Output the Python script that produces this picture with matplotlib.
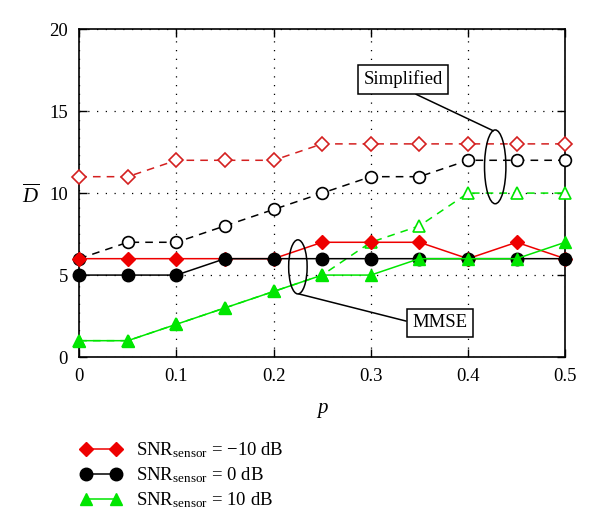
import matplotlib
matplotlib.use('Agg')
import matplotlib.pyplot as plt
from matplotlib.patches import Ellipse

# data
p = [0, 0.05, 0.1, 0.15, 0.2, 0.25, 0.3, 0.35, 0.4, 0.45, 0.5]
mmse_m10 = [6, 6, 6, 6, 6, 7, 7, 7, 6, 7, 6]
mmse_0 = [5, 5, 5, 6, 6, 6, 6, 6, 6, 6, 6]
mmse_10 = [1, 1, 2, 3, 4, 5, 5, 6, 6, 6, 7]
simp_m10 = [11, 11, 12, 12, 12, 13, 13, 13, 13, 13, 13]
simp_0 = [6, 7, 7, 8, 9, 10, 11, 11, 12, 12, 12]
simp_10 = [1, 1, 2, 3, 4, 5, 7, 8, 10, 10, 10]
labels = [r'SNR$_{\mathrm{sensor}}$ = $-$10 dB',
          r'SNR$_{\mathrm{sensor}}$ = 0 dB',
          r'SNR$_{\mathrm{sensor}}$ = 10 dB']

plt.rcParams['font.family'] = ['Liberation Serif', 'DejaVu Serif']
plt.rcParams['mathtext.fontset'] = 'custom'
plt.rcParams['mathtext.rm'] = 'Liberation Serif'
plt.rcParams['mathtext.it'] = 'Liberation Serif:italic'

red = '#ee0000'
green = '#00e600'
dash = (0, (5, 4))

fig = plt.figure(figsize=(6, 5.29), dpi=100)
ax = fig.add_axes([0.132, 0.325, 0.81, 0.62])

# simplified (dashed, open markers)
ax.plot(p, simp_m10, color='#d42020', ls=dash, lw=1.1, marker='D', ms=7,
        mfc='white', mec='#d42020', mew=1.2, clip_on=False, zorder=3)
ax.plot(p, simp_0, color='black', ls=dash, lw=1.1, marker='o', ms=8.5,
        mfc='white', mec='black', mew=1.2, clip_on=False, zorder=3)
ax.plot(p, simp_10, color=green, ls=dash, lw=1.1, marker='^', ms=8,
        mfc='white', mec=green, mew=1.2, clip_on=False, zorder=3)

# MMSE (solid, filled markers)
h1, = ax.plot(p, mmse_m10, color=red, lw=1.1, marker='D', ms=7.5, clip_on=False, zorder=4)
h2, = ax.plot(p, mmse_0, color='black', lw=1.1, marker='o', ms=9, clip_on=False, zorder=4)
h3, = ax.plot(p, mmse_10, color=green, lw=1.1, marker='^', ms=9, clip_on=False, zorder=4)

ax.set_xlim(0, 0.5)
ax.set_ylim(0, 20)
ax.set_xticks([0, 0.1, 0.2, 0.3, 0.4, 0.5])
ax.set_xticklabels(['0', '0.1', '0.2', '0.3', '0.4', '0.5'])
ax.set_yticks([0, 5, 10, 15, 20])
ax.tick_params(direction='in', top=True, right=True, length=6, width=1,
               labelsize=13.5, pad=8)
ax.grid(True, color='black', ls=(0, (1, 6)), lw=0.9)
for s in ax.spines.values():
    s.set_linewidth(1.2)

ax.set_xlabel('$p$', fontsize=15)
ax.xaxis.set_label_coords(0.5, -0.135)
ax.set_ylabel(r'$\overline{D}$', fontsize=15, rotation=0, va='center', ha='center')
ax.yaxis.set_label_coords(-0.10, 0.492)

# annotations
ax.add_patch(Ellipse((0.225, 5.5), 0.019, 3.3, fill=False, ec='black', lw=1.1, zorder=5))
ax.add_patch(Ellipse((0.428, 11.6), 0.022, 4.5, fill=False, ec='black', lw=1.1, zorder=5))
bbox = dict(boxstyle='square,pad=0.3', fc='white', ec='black', lw=1.1)
ax.annotate('MMSE', xy=(0.226, 3.85), xytext=(0.371, 2.1), fontsize=13.5,
            ha='center', va='center', bbox=bbox, zorder=6,
            arrowprops=dict(arrowstyle='-', color='black', lw=1.1,
                            shrinkA=0, shrinkB=0, relpos=(0.0, 0.5)))
ax.annotate('Simplified', xy=(0.426, 13.8), xytext=(0.333, 16.95), fontsize=13.5,
            ha='center', va='center', bbox=bbox, zorder=6,
            arrowprops=dict(arrowstyle='-', color='black', lw=1.1,
                            shrinkA=0, shrinkB=0, relpos=(0.5, 0.0)))

fig.legend([h1, h2, h3], labels, loc='upper left', bbox_to_anchor=(0.105, 0.2),
           frameon=False, numpoints=2, fontsize=13.5, handlelength=2.2,
           labelspacing=0.3, handletextpad=0.8)

fig.savefig('out.png', dpi=100)
